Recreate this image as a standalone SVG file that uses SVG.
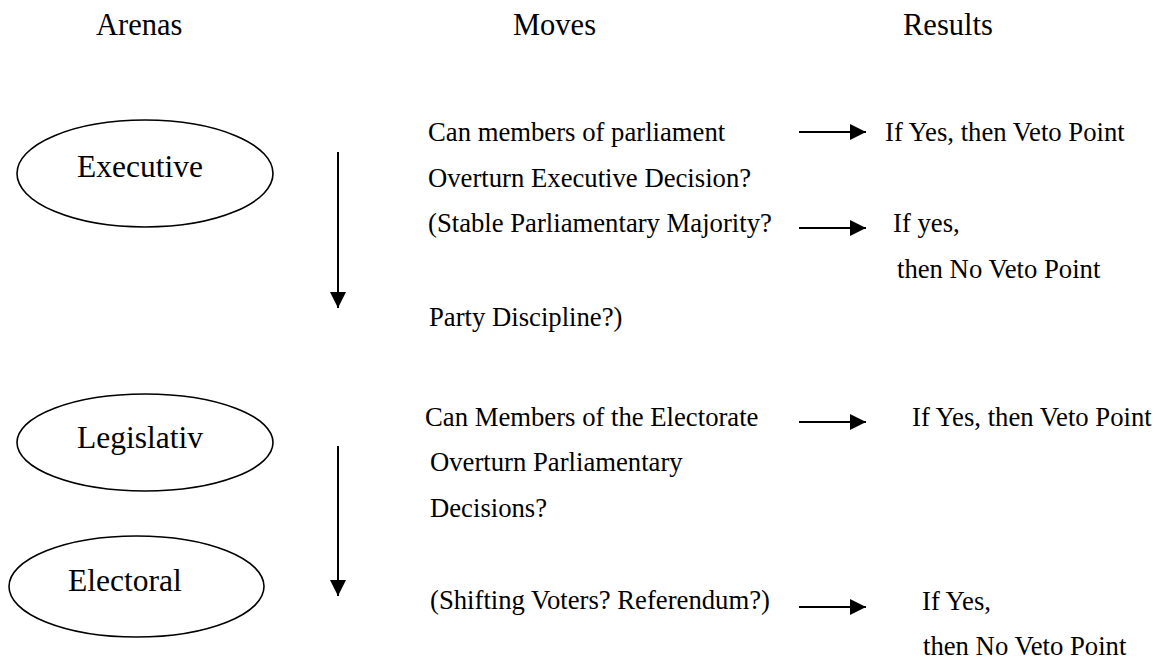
<svg xmlns="http://www.w3.org/2000/svg" width="1175" height="660" viewBox="0 0 1175 660">
<style>
text{font-family:"Liberation Serif","Times New Roman",serif;fill:#000}
.h{font-size:30.5px}
.n{font-size:31.5px}
.b{font-size:26.7px}
.el{fill:none;stroke:#000;stroke-width:1.6}
.c{stroke:#000;stroke-width:2;fill:none}
</style>
<defs>
<marker id="ah" markerUnits="userSpaceOnUse" markerWidth="16" markerHeight="16" refX="16" refY="8" orient="auto">
<path d="M0,0 L16,8 L0,16 z" fill="#000"/>
</marker>
</defs>
<g id="headers">
<text class="h" x="96" y="35">Arenas</text>
<text class="h" x="513" y="35">Moves</text>
<text class="h" x="903" y="35">Results</text>
</g>
<g id="executive">
<ellipse class="el" cx="145" cy="173.5" rx="128" ry="53.5"/>
<text class="n" x="77" y="177">Executive</text>
</g>
<g id="legislativ">
<ellipse class="el" cx="145" cy="442.5" rx="128" ry="48.5"/>
<text class="n" x="77" y="448">Legislativ</text>
</g>
<g id="electoral">
<ellipse class="el" cx="136.5" cy="586.5" rx="127.5" ry="50.5"/>
<text class="n" x="68" y="591">Electoral</text>
</g>
<g id="moves1">
<text class="b" x="428" y="141">Can members of parliament</text>
<text class="b" x="428" y="187">Overturn Executive Decision?</text>
<text class="b" x="428" y="232">(Stable Parliamentary Majority?</text>
<text class="b" x="429" y="326">Party Discipline?)</text>
</g>
<g id="moves2">
<text class="b" x="425" y="426">Can Members of the Electorate</text>
<text class="b" x="430" y="471">Overturn Parliamentary</text>
<text class="b" x="430" y="517">Decisions?</text>
<text class="b" x="430" y="609">(Shifting Voters? Referendum?)</text>
</g>
<g id="result1">
<text class="b" x="885" y="141">If Yes, then Veto Point</text>
</g>
<g id="result2">
<text class="b" x="893" y="232">If yes,</text>
<text class="b" x="897" y="278">then No Veto Point</text>
</g>
<g id="result3">
<text class="b" x="912" y="426">If Yes, then Veto Point</text>
</g>
<g id="result4">
<text class="b" x="922" y="610">If Yes,</text>
<text class="b" x="923" y="655">then No Veto Point</text>
</g>
<g id="connectors">
<line class="c" x1="338" y1="152" x2="338" y2="308" marker-end="url(#ah)"/>
<line class="c" x1="338" y1="446" x2="338" y2="596" marker-end="url(#ah)"/>
<line class="c" x1="799" y1="132" x2="866" y2="132" marker-end="url(#ah)"/>
<line class="c" x1="799" y1="228" x2="866" y2="228" marker-end="url(#ah)"/>
<line class="c" x1="799" y1="422" x2="866" y2="422" marker-end="url(#ah)"/>
<line class="c" x1="799" y1="607" x2="866" y2="607" marker-end="url(#ah)"/>
</g>
</svg>
